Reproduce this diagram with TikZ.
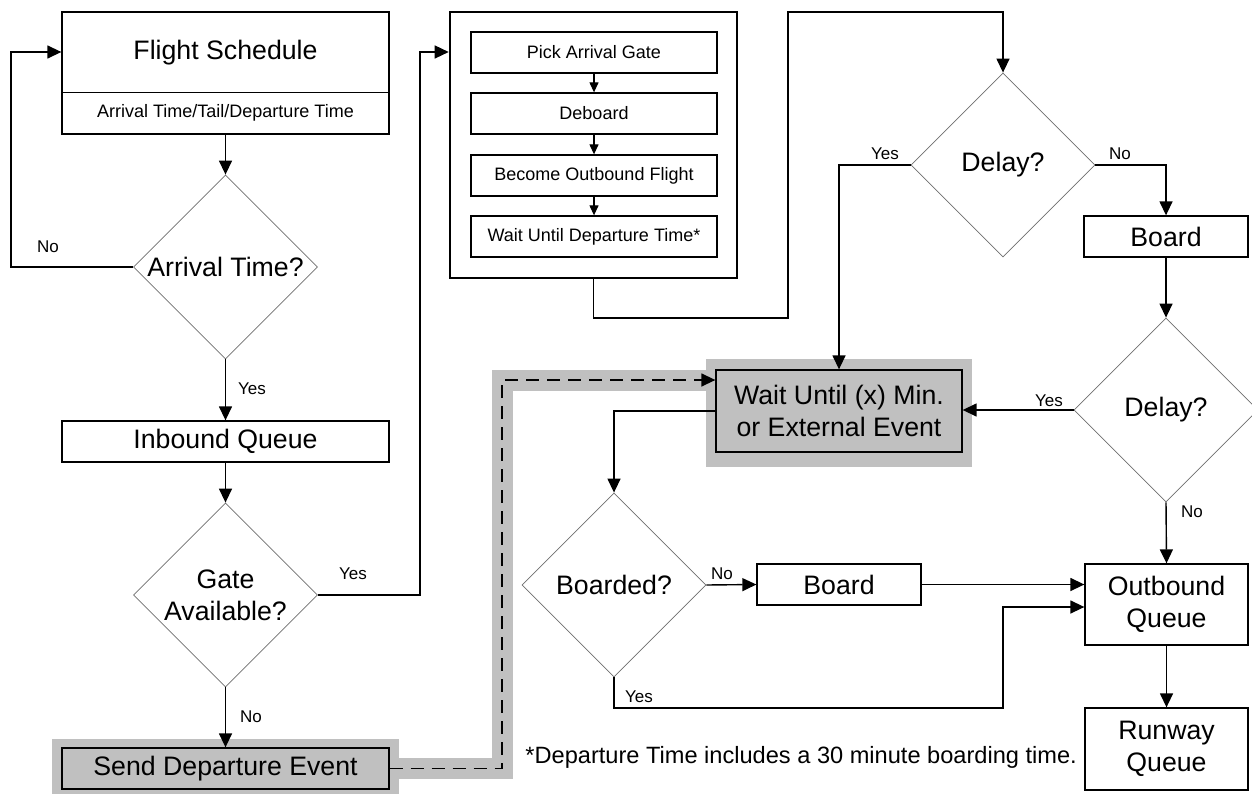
\documentclass[tikz,border=0pt]{standalone}
\usepackage{fontspec}
\setmainfont{Liberation Sans}
\usetikzlibrary{arrows.meta,shapes.geometric,calc,backgrounds}
\definecolor{halogray}{RGB}{192,192,192}
\definecolor{diagray}{RGB}{110,110,110}
\tikzset{
  big font/.style={font=\fontsize{26.7}{32}\selectfont},
  small font/.style={font=\fontsize{18}{21}\selectfont},
  lbl/.style={font=\fontsize{17}{20}\selectfont, inner sep=0pt},
  box/.style={draw, line width=1.3pt, inner sep=0pt, align=center, minimum height=41pt, big font},
  subbox/.style={draw, line width=1.3pt, inner sep=0pt, align=center, minimum width=246pt, minimum height=41pt, small font},
  dia/.style={draw=diagray, line width=0.8pt, diamond, inner sep=0pt, minimum width=184pt, minimum height=184pt},
  diatext/.style={big font, align=center, inner sep=0pt},
  arr/.style={line width=1.4pt, -{Triangle[length=14pt,width=13pt]}},
  sarr/.style={line width=1.2pt, -{Triangle[length=10pt,width=9pt]}},
  halo/.style={fill=halogray},
}
\begin{document}
\begin{tikzpicture}[x=1pt,y=-1pt]
\useasboundingbox (0,0) rectangle (1252,794);
% Flight schedule
\node[draw, line width=1.3pt, minimum width=327pt, minimum height=122pt, inner sep=0pt] (fs) at (225.5,73) {};
\node[big font, inner sep=0pt] (fst) at (225.5,53) {Flight Schedule};
\node[small font, inner sep=0pt] (fss) at (225.5,113) {Arrival Time/Tail/Departure Time};
\draw[line width=1.3pt] ($(fs.north west)+(0,81)$) -- ($(fs.north east)+(0,81)$);
% left column
\node[dia] (at) at (225.5,267) {};
\node[diatext] (att) at (at.center) {Arrival Time?};
\node[box, minimum width=327pt] (iq) at (225.5,441.5) {Inbound Queue};
\node[dia] (ga) at (225.5,595) {};
\node[diatext] (gat) at (ga.center) {Gate\\Available?};
\node[box, minimum width=327pt, fill=halogray] (sde) at (225.5,768.5) {Send Departure Event};
% big box
\node[draw, line width=2.6pt, minimum width=287pt, minimum height=266pt, inner sep=0pt] (big) at (593.5,145) {};
\node[subbox] (p1) at (594,52.5) {Pick Arrival Gate};
\node[subbox] (p2) at (594,113.5) {Deboard};
\node[subbox] (p3) at (594,175.5) {Become Outbound Flight};
\node[subbox] (p4) at (594,236.5) {Wait Until Departure Time*};
% right part
\node[dia] (dl1) at (1003,165) {};
\node[diatext] (dl1t) at (dl1.center) {Delay?};
\node[box, minimum width=164pt] (b1) at (1166,236.5) {Board};
\node[dia] (dl2) at (1166,410) {};
\node[diatext] (dl2t) at (dl2.center) {Delay?};
\node[box, minimum width=246pt, minimum height=82pt, fill=halogray] (wt) at (839,411) {Wait Until (x) Min.\\ or External Event};
\node[dia] (bd) at (614,585) {};
\node[diatext] (bdt) at (bd.center) {Boarded?};
\node[box, minimum width=164pt] (b2) at (839,584.5) {Board};
\node[box, minimum width=163pt, minimum height=81pt] (oq) at (1166.5,604.5) {Outbound\\Queue};
\node[box, minimum width=163pt, minimum height=82pt] (rq) at (1166.5,749) {Runway\\Queue};
% footnote
\node[font=\fontsize{23.6}{28}\selectfont, inner sep=0pt, anchor=east] (fn) at (1077,757) {*Departure Time includes a 30 minute boarding time.};
% coordinates
\coordinate (lp) at (11,52);
\coordinate (gp) at (420,52);
\coordinate (c1) at (788,318);
\coordinate (c2) at (788,12);
\coordinate (yj) at (1003,708);
\coordinate (dj) at (502,380);
% halos
\begin{pgfonlayer}{background}
\fill[halo] (52,739) rectangle (399,800);
\fill[halo] (706,359) rectangle (972,467);
\draw[halogray, line width=21pt, line join=miter] (sde.east) -| (dj) -- (dj -| wt.west);
\end{pgfonlayer}
% connectors
\draw[arr] (fs.south) -- (at.north);
\draw[arr] (at.west) -| (lp) -- (lp -| fs.west);
\draw[arr] (at.south) -- (iq.north);
\draw[arr] (iq.south) -- (ga.north);
\draw[arr] (ga.east) -| (gp) -- (gp -| big.west);
\draw[arr] (ga.south) -- (sde.north);
\draw[sarr] (p1.south) -- (p2.north);
\draw[sarr] (p2.south) -- (p3.north);
\draw[sarr] (p3.south) -- (p4.north);
\draw[arr] (big.south) |- (c1) -- (c2) -| (dl1.north);
\draw[arr] (dl1.west) -| (wt.north);
\draw[arr] (dl1.east) -| (b1.north);
\draw[arr] (b1.south) -- (dl2.north);
\draw[arr] (dl2.west) -- (dl2.west -| wt.east);
\draw[arr] (dl2.south) -- (oq.north);
\draw[arr] (oq.south) -- (rq.north);
\draw[arr] (wt.west) -| (bd.north);
\draw[arr] (bd.east) -- (b2.west);
\draw[arr] (b2.east) -- (b2.east -| oq.west);
\draw[arr] (bd.south) |- (yj) |- ($(oq.west)+(0,2.5)$);
\draw[arr, dash pattern=on 13pt off 8pt] (sde.east) -| (dj) -- (dj -| wt.west);
% labels
\node[lbl] (l1) at (48,247) {No};
\node[lbl] (l2) at (252,389) {Yes};
\node[lbl] (l3) at (353,574) {Yes};
\node[lbl] (l4) at (251,717) {No};
\node[lbl] (l5) at (885,154) {Yes};
\node[lbl] (l6) at (1120,154) {No};
\node[lbl] (l7) at (1049,401) {Yes};
\node[lbl] (l8) at (1192,512) {No};
\node[lbl] (l9) at (722,574) {No};
\node[lbl] (l10) at (639,697) {Yes};
\end{tikzpicture}
\end{document}
